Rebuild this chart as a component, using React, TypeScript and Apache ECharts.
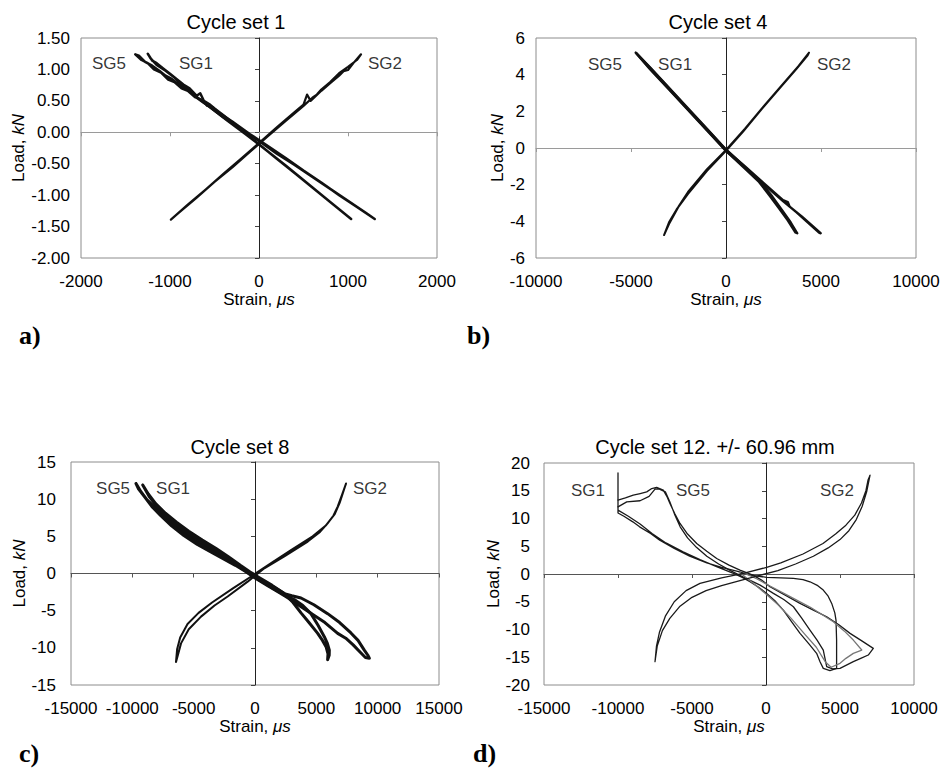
import React, { useEffect, useRef } from "react";
import * as echarts from "echarts";

type Pt = [number, number];

const FONT = "'Liberation Sans', Arial, Helvetica, sans-serif";
const SERIF = "'Liberation Serif', 'Times New Roman', serif";

// ---------- Titles / labels ----------
const titles = ["Cycle set 1", "Cycle set 4", "Cycle set 8", "Cycle set 12. +/- 60.96 mm"];
const panelLetters = ["a)", "b)", "c)", "d)"];
const xName = "Strain, {i|μs}";
const yName = "Load, {i|kN}";

// ---------- Axis ranges [min, max, interval] ----------
const aX = [-2000, 2000, 1000];
const aY = [-2, 1.5, 0.5];
const bX = [-10000, 10000, 5000];
const bY = [-6, 6, 2];
const cX = [-15000, 15000, 5000];
const cY = [-15, 15, 5];
const dX = [-15000, 10000, 5000];
const dY = [-20, 20, 5];

// ---------- Panel a: Cycle set 1 ----------
const aSG5: Pt[] = [
  [1300, -1.38], [1100, -1.19], [900, -1.0], [700, -0.8], [500, -0.61], [300, -0.41], [100, -0.22],
  [-100, -0.03], [-300, 0.17], [-450, 0.31], [-520, 0.4], [-580, 0.42], [-650, 0.52], [-720, 0.56],
  [-800, 0.66], [-870, 0.7], [-950, 0.8], [-1020, 0.84], [-1100, 0.95], [-1180, 1.0], [-1250, 1.1],
  [-1320, 1.15], [-1390, 1.24], [-1350, 1.22], [-1280, 1.12], [-1200, 1.06], [-1120, 0.98], [-1050, 0.9],
  [-980, 0.85], [-900, 0.76], [-820, 0.7], [-750, 0.6], [-650, 0.5], [-550, 0.4], [-400, 0.24],
  [-200, 0.05], [0, -0.14], [200, -0.34], [400, -0.52], [600, -0.71], [800, -0.9], [1000, -1.09],
  [1200, -1.28], [1300, -1.38],
];
const aSG1: Pt[] = [
  [1035, -1.38], [800, -1.11], [600, -0.88], [400, -0.65], [200, -0.42], [0, -0.19], [-200, 0.04],
  [-400, 0.27], [-500, 0.38], [-560, 0.45], [-620, 0.5], [-660, 0.62], [-700, 0.58], [-780, 0.7],
  [-850, 0.76], [-920, 0.84], [-1000, 0.93], [-1080, 1.02], [-1150, 1.1], [-1200, 1.14], [-1250, 1.25],
  [-1220, 1.18], [-1150, 1.07], [-1050, 0.98], [-950, 0.87], [-850, 0.73], [-700, 0.56], [-550, 0.4],
  [-350, 0.18], [-150, -0.03], [50, -0.25], [300, -0.53], [550, -0.82], [800, -1.11], [1035, -1.38],
];
const aSG2: Pt[] = [
  [-990, -1.39], [-800, -1.15], [-600, -0.91], [-400, -0.66], [-200, -0.42], [0, -0.17], [200, 0.08],
  [400, 0.32], [500, 0.44], [540, 0.6], [580, 0.5], [700, 0.66], [800, 0.78], [900, 0.9], [950, 0.97],
  [1000, 0.99], [1060, 1.1], [1146, 1.24], [1100, 1.15], [1000, 1.04], [900, 0.94], [800, 0.8],
  [700, 0.68], [650, 0.6], [600, 0.55], [500, 0.42], [300, 0.18], [100, -0.06], [-100, -0.31],
  [-300, -0.56], [-500, -0.79], [-700, -1.04], [-900, -1.28], [-990, -1.39],
];
const aLabels: { name: string; pos: Pt }[] = [
  { name: "SG5", pos: [-1685, 1.1] },
  { name: "SG1", pos: [-708, 1.1] },
  { name: "SG2", pos: [1416, 1.1] },
];

// ---------- Panel b: Cycle set 4 ----------
const bSG5: Pt[] = [
  [-4750, 5.2], [-4000, 4.37], [-3000, 3.25], [-2000, 2.13], [-1000, 1.02], [0, -0.1], [1000, -1.01],
  [2000, -1.93], [3000, -2.84], [3250, -2.95], [3350, -3.2], [4000, -3.75], [4980, -4.65], [4900, -4.62],
  [4300, -4.05], [3700, -3.5], [3000, -2.9], [2000, -1.98], [1000, -1.06], [0, -0.16], [-1000, 0.96],
  [-2000, 2.07], [-3000, 3.19], [-4000, 4.3], [-4750, 5.2],
];
const bSG1: Pt[] = [
  [-4700, 5.15], [-4000, 4.4], [-3000, 3.28], [-2000, 2.16], [-1000, 1.05], [0, -0.08], [1000, -1.05],
  [1740, -1.75], [2440, -2.65], [2960, -3.4], [3400, -4.05], [3750, -4.65], [3650, -4.6], [3250, -3.95],
  [2800, -3.3], [2300, -2.6], [1740, -1.85], [1000, -1.12], [0, -0.15], [-1000, 0.98], [-2000, 2.1],
  [-3000, 3.22], [-4000, 4.34], [-4700, 5.15],
];
const bSG2: Pt[] = [
  [-3260, -4.75], [-3000, -4.15], [-2500, -3.2], [-2000, -2.4], [-1000, -1.15], [0, -0.1], [1000, 1.05],
  [2000, 2.3], [3000, 3.5], [3800, 4.45], [4370, 5.2], [4300, 5.05], [3700, 4.3], [2900, 3.35],
  [1900, 2.15], [900, 0.9], [0, -0.15], [-1000, -1.25], [-2000, -2.5], [-2600, -3.35], [-3000, -4.05], [-3260, -4.75],
];
const bLabels: { name: string; pos: Pt }[] = [
  { name: "SG5", pos: [-6370, 4.53] },
  { name: "SG1", pos: [-2680, 4.53] },
  { name: "SG2", pos: [5680, 4.53] },
];

// ---------- Panel c: Cycle set 8 ----------
const cSG5: Pt[] = [
  [-9700, 12.1], [-9300, 11.0], [-8800, 9.9], [-8210, 9.0], [-7500, 7.9], [-6850, 6.8], [-5900, 5.6],
  [-4950, 4.5], [-3800, 3.4], [-2770, 2.4], [-1900, 1.5], [-1140, 0.7], [-330, -0.2], [600, -1.0],
  [1500, -1.8], [2390, -2.7], [3000, -3.0], [3750, -3.3], [4800, -4.2], [5920, -5.4], [6900, -6.6],
  [7820, -8.0], [8400, -9.0], [8910, -10.3], [9200, -11.0], [9320, -11.4], [9000, -11.3], [8640, -10.7],
  [8000, -9.6], [7400, -8.7], [6740, -8.05], [5700, -6.6], [4560, -5.36], [3600, -4.3], [2800, -3.4],
  [2000, -2.6], [1000, -1.6], [0, -0.6], [-800, 0.3], [-1600, 1.1], [-2600, 2.0], [-3600, 2.9],
  [-4700, 3.9], [-5800, 5.1], [-6800, 6.4], [-7700, 7.8], [-8400, 9.0], [-9000, 10.3], [-9500, 11.4], [-9700, 12.1],
];
const cSG1: Pt[] = [
  [-9150, 11.9], [-8700, 10.7], [-8100, 9.4], [-7300, 8.1], [-6400, 6.9], [-5400, 5.7], [-4300, 4.5],
  [-3200, 3.4], [-2200, 2.3], [-1200, 1.1], [-400, 0.2], [400, -0.6], [1400, -1.6], [2390, -2.7],
  [3100, -3.9], [3750, -5.3], [4400, -6.6], [5110, -8.05], [5500, -9.0], [5790, -9.85], [5950, -10.8],
  [5920, -11.6], [6050, -11.0], [6060, -10.3], [5900, -9.4], [5650, -8.5], [5150, -7.0], [4560, -5.4],
  [3900, -4.3], [3200, -3.5], [2400, -2.9], [1600, -2.1], [800, -1.3], [0, -0.5], [-1000, 0.6],
  [-2000, 1.7], [-3000, 2.9], [-4000, 3.9], [-5000, 4.9], [-6000, 6.0], [-7000, 7.3], [-7900, 8.8],
  [-8600, 10.3], [-9150, 11.9],
];
const cSG2: Pt[] = [
  [-6440, -11.9], [-6030, -9.4], [-5400, -7.5], [-4400, -5.8], [-3300, -4.3], [-2230, -3.1], [-600, -1.1],
  [0, -0.3], [760, 0.7], [2390, 2.3], [4300, 4.3], [5300, 5.6], [5920, 6.75], [6400, 7.8], [6740, 9.0],
  [7100, 10.6], [7420, 12.1], [7200, 11.0], [6900, 9.5], [6500, 8.0], [5800, 6.5], [4700, 5.0],
  [3000, 3.2], [1500, 1.6], [300, 0.3], [-500, -0.6], [-1800, -2.0], [-3500, -3.9], [-4600, -5.3],
  [-5500, -6.8], [-6100, -8.6], [-6350, -10.2], [-6440, -11.9],
];
const cLabels: { name: string; pos: Pt }[] = [
  { name: "SG5", pos: [-11570, 11.5] },
  { name: "SG1", pos: [-6680, 11.5] },
  { name: "SG2", pos: [9370, 11.5] },
];

// ---------- Panel d: Cycle set 12 ----------
const dSG1: Pt[] = [
  [-10000, 18.2], [-10000, 15.0], [-10000, 11.0], [-9600, 10.4], [-9000, 9.4], [-8540, 8.5], [-7800, 7.3],
  [-7180, 6.1], [-6200, 4.6], [-5160, 3.2], [-4000, 2.0], [-3000, 1.2], [-1780, 0.4], [-1080, -0.2],
  [45, -0.6], [1000, -0.7], [1850, -0.8], [2500, -1.0], [2970, -1.4], [3500, -2.1], [3870, -2.9],
  [4200, -4.0], [4440, -5.3], [4650, -7.0], [4730, -8.3], [4770, -11.9], [4770, -17.0], [4320, -17.4],
  [3870, -17.0], [3650, -15.8], [3420, -14.3], [2900, -12.6], [2300, -10.7], [1700, -8.5], [1170, -6.5],
  [600, -4.8], [45, -3.5], [-500, -2.4], [-1080, -1.4], [-1600, -0.6], [-2200, 0.1], [-3300, 1.3],
  [-4460, 2.6], [-5600, 4.0], [-6760, 5.6], [-7700, 7.3], [-8510, 9.0], [-9300, 10.4], [-10000, 11.5], [-10000, 12.4],
];
const dSG5: Pt[] = [
  [-10000, 13.3], [-9500, 13.7], [-8970, 14.2], [-8500, 14.5], [-8060, 14.8], [-7720, 15.4], [-7390, 15.6],
  [-6940, 15.1], [-6700, 14.0], [-6490, 12.7], [-6150, 10.8], [-5810, 9.1], [-5300, 7.2], [-4680, 5.5],
  [-4000, 4.1], [-3330, 2.8], [-2500, 1.6], [-1760, 0.7], [-880, -0.2], [-300, -1.1], [270, -2.3],
  [1300, -3.8], [2300, -5.3], [3200, -6.5], [4100, -7.7], [4900, -9.1], [5680, -10.7], [6500, -12.1],
  [7250, -13.4], [6910, -14.6], [6400, -15.2], [5900, -15.8], [5000, -17.0], [4500, -17.1], [4100, -16.7],
  [3870, -13.7], [3450, -11.9], [2970, -10.1], [2400, -7.9], [1850, -5.9], [1200, -4.6], [500, -3.5],
  [-400, -2.0], [-1500, -0.6], [-2400, 0.6], [-3200, 1.8], [-4000, 3.2], [-4700, 4.8], [-5300, 6.5],
  [-5800, 8.5], [-6150, 10.6], [-6500, 13.0], [-6800, 14.8], [-7200, 15.3], [-7500, 15.3], [-7900, 14.0],
  [-8510, 13.2], [-9410, 13.0], [-10000, 12.1],
];
const dSG5b: Pt[] = [
  [-1500, 0.2], [-600, -0.9], [300, -2.2], [1500, -3.9], [3000, -6.0], [4550, -8.6], [5300, -10.3],
  [5900, -11.9], [6470, -13.7], [5900, -14.3], [5400, -15.2], [5000, -16.1], [4400, -16.8], [4000, -15.8],
  [3400, -13.2], [2600, -10.8], [1700, -8.0], [800, -5.5], [0, -3.6], [-800, -1.8], [-1800, 0.3],
];
const dSG2: Pt[] = [
  [-7500, -15.8], [-7350, -13.0], [-7000, -10.2], [-6500, -8.0], [-5810, -5.8], [-5000, -4.2], [-4050, -3.0],
  [-3000, -2.1], [-1760, -1.2], [-500, -0.3], [800, 0.6], [2000, 1.8], [3200, 3.2], [4200, 4.7],
  [5000, 6.2], [5600, 7.8], [6100, 9.8], [6500, 12.2], [6800, 14.8], [7030, 17.8], [6900, 17.0],
  [6750, 15.0], [6450, 12.8], [6000, 10.6], [5400, 8.8], [4700, 7.2], [3850, 5.5], [2500, 3.6],
  [1000, 2.0], [45, 1.2], [-1530, 0.1], [-3000, -0.7], [-4460, -1.7], [-5400, -3.0], [-6200, -5.0],
  [-6800, -7.6], [-7200, -10.5], [-7400, -13.0], [-7500, -15.8],
];
const dLabels: { name: string; pos: Pt }[] = [
  { name: "SG1", pos: [-12030, 15.1] },
  { name: "SG5", pos: [-4930, 15.1] },
  { name: "SG2", pos: [4800, 15.1] },
];

// ---------- Panel configuration (layout / style) ----------
interface Panel {
  grid: { left: number; top: number; width: number; height: number };
  x: number[];
  y: number[];
  yDec: number;
  yLabelMargin: number;
  yNameGap: number;
  hZero: string;
  series: { data: Pt[]; color: string; width: number }[];
  labels: { name: string; pos: Pt }[];
  title: { x: number; y: number };
  letter: { x: number; y: number };
}

const panels: Panel[] = [
  {
    grid: { left: 81, top: 38, width: 356, height: 220 },
    x: aX, y: aY, yDec: 2, yLabelMargin: 11, yNameGap: 54, hZero: "#9a9a9a",
    series: [
      { data: aSG5, color: "#111", width: 2.5 },
      { data: aSG1, color: "#111", width: 2.5 },
      { data: aSG2, color: "#111", width: 2.2 },
    ],
    labels: aLabels, title: { x: 236, y: 22 }, letter: { x: 19, y: 335 },
  },
  {
    grid: { left: 536, top: 38, width: 380, height: 220 },
    x: bX, y: bY, yDec: 0, yLabelMargin: 11, yNameGap: 30, hZero: "#9a9a9a",
    series: [
      { data: bSG5, color: "#111", width: 2.4 },
      { data: bSG1, color: "#111", width: 2.4 },
      { data: bSG2, color: "#111", width: 2 },
    ],
    labels: bLabels, title: { x: 718, y: 22 }, letter: { x: 467, y: 335 },
  },
  {
    grid: { left: 71, top: 462, width: 368, height: 223 },
    x: cX, y: cY, yDec: 0, yLabelMargin: 15, yNameGap: 43, hZero: "#555",
    series: [
      { data: cSG5, color: "#111", width: 3 },
      { data: cSG1, color: "#111", width: 3 },
      { data: cSG2, color: "#111", width: 2 },
    ],
    labels: cLabels, title: { x: 240, y: 447 }, letter: { x: 19, y: 753 },
  },
  {
    grid: { left: 544, top: 463, width: 370, height: 222 },
    x: dX, y: dY, yDec: 0, yLabelMargin: 14, yNameGap: 42, hZero: "#555",
    series: [
      { data: dSG1, color: "#1a1a1a", width: 1.3 },
      { data: dSG5, color: "#1a1a1a", width: 1.3 },
      { data: dSG5b, color: "#777", width: 1.3 },
      { data: dSG2, color: "#1a1a1a", width: 1.3 },
    ],
    labels: dLabels, title: { x: 715, y: 447 }, letter: { x: 473, y: 753 },
  },
];

function buildOption(): any {
  const grid: any[] = [];
  const xAxis: any[] = [];
  const yAxis: any[] = [];
  const series: any[] = [];
  const graphic: any[] = [];
  const txt = { color: "#000", fontFamily: FONT };

  panels.forEach((p, i) => {
    grid.push({
      ...p.grid,
      show: true,
      borderColor: "#8c8c8c",
      borderWidth: 1,
      backgroundColor: "transparent",
      containLabel: false,
    });
    const [xmin, xmax, xint] = p.x;
    const [ymin, ymax, yint] = p.y;
    // main x axis (labels + name)
    xAxis.push({
      type: "value", gridIndex: i, min: xmin, max: xmax, interval: xint, position: "bottom",
      axisLine: { show: false, onZero: false }, axisTick: { show: false }, splitLine: { show: false },
      axisLabel: { ...txt, fontSize: 17, margin: 15, formatter: (v: number) => String(v) },
      name: xName, nameLocation: "middle", nameGap: 33,
      nameTextStyle: { ...txt, fontSize: 17, rich: { i: { ...txt, fontSize: 17, fontStyle: "italic" } } },
    });
    // zero x axis (line through y=0 with ticks)
    xAxis.push({
      type: "value", gridIndex: i, min: xmin, max: xmax, interval: xint, position: "bottom",
      axisLine: { show: true, onZero: true, onZeroAxisIndex: 2 * i, lineStyle: { color: p.hZero, width: 1 } },
      axisTick: { show: true, length: 4, lineStyle: { color: p.hZero } },
      axisLabel: { show: false }, splitLine: { show: false },
    });
    yAxis.push({
      type: "value", gridIndex: i, min: ymin, max: ymax, interval: yint, position: "left",
      axisLine: { show: false, onZero: false }, axisTick: { show: false }, splitLine: { show: false },
      axisLabel: { ...txt, fontSize: 17, margin: p.yLabelMargin, formatter: (v: number) => v.toFixed(p.yDec) },
      name: yName, nameLocation: "middle", nameGap: p.yNameGap,
      nameTextStyle: { ...txt, fontSize: 17, rich: { i: { ...txt, fontSize: 17, fontStyle: "italic" } } },
    });
    yAxis.push({
      type: "value", gridIndex: i, min: ymin, max: ymax, interval: yint, position: "left",
      axisLine: { show: true, onZero: true, onZeroAxisIndex: 2 * i, lineStyle: { color: "#222", width: 1 } },
      axisTick: { show: true, length: 4, lineStyle: { color: "#444" } },
      axisLabel: { show: false }, splitLine: { show: false },
    });

    p.series.forEach((s) => {
      series.push({
        type: "line", xAxisIndex: 2 * i, yAxisIndex: 2 * i, data: s.data,
        symbol: "none", showSymbol: false, smooth: false, silent: true,
        lineStyle: { color: s.color, width: s.width, join: "round", cap: "round" },
        z: 3,
      });
    });
    series.push({
      type: "scatter", xAxisIndex: 2 * i, yAxisIndex: 2 * i, symbolSize: 1, silent: true,
      itemStyle: { color: "rgba(0,0,0,0)" },
      data: p.labels.map((l) => ({ value: l.pos, name: l.name })),
      label: { show: true, position: "inside", formatter: "{b}", ...txt, fontSize: 17 },
      z: 4,
    });

    graphic.push({
      type: "text", x: p.title.x, y: p.title.y,
      style: {
        text: titles[i], font: `20px ${FONT}`, fill: "#000",
        align: "center", verticalAlign: "middle", textAlign: "center", textVerticalAlign: "middle",
      },
    });
    graphic.push({
      type: "text", x: p.letter.x, y: p.letter.y,
      style: {
        text: panelLetters[i], font: `bold 26px ${SERIF}`, fill: "#000",
        align: "left", verticalAlign: "middle", textAlign: "left", textVerticalAlign: "middle",
      },
    });
  });

  return {
    animation: false,
    backgroundColor: "#ffffff",
    grid, xAxis, yAxis, series, graphic,
  };
}

export default function App() {
  const ref = useRef<HTMLDivElement>(null);
  useEffect(() => {
    if (!ref.current) return;
    const chart = echarts.init(ref.current, undefined, { renderer: "svg" });
    chart.setOption(buildOption());
    return () => chart.dispose();
  }, []);
  return (
    <div
      ref={ref}
      style={{ position: "absolute", left: 0, top: 0, width: 946, height: 774, background: "#fff" }}
    />
  );
}
